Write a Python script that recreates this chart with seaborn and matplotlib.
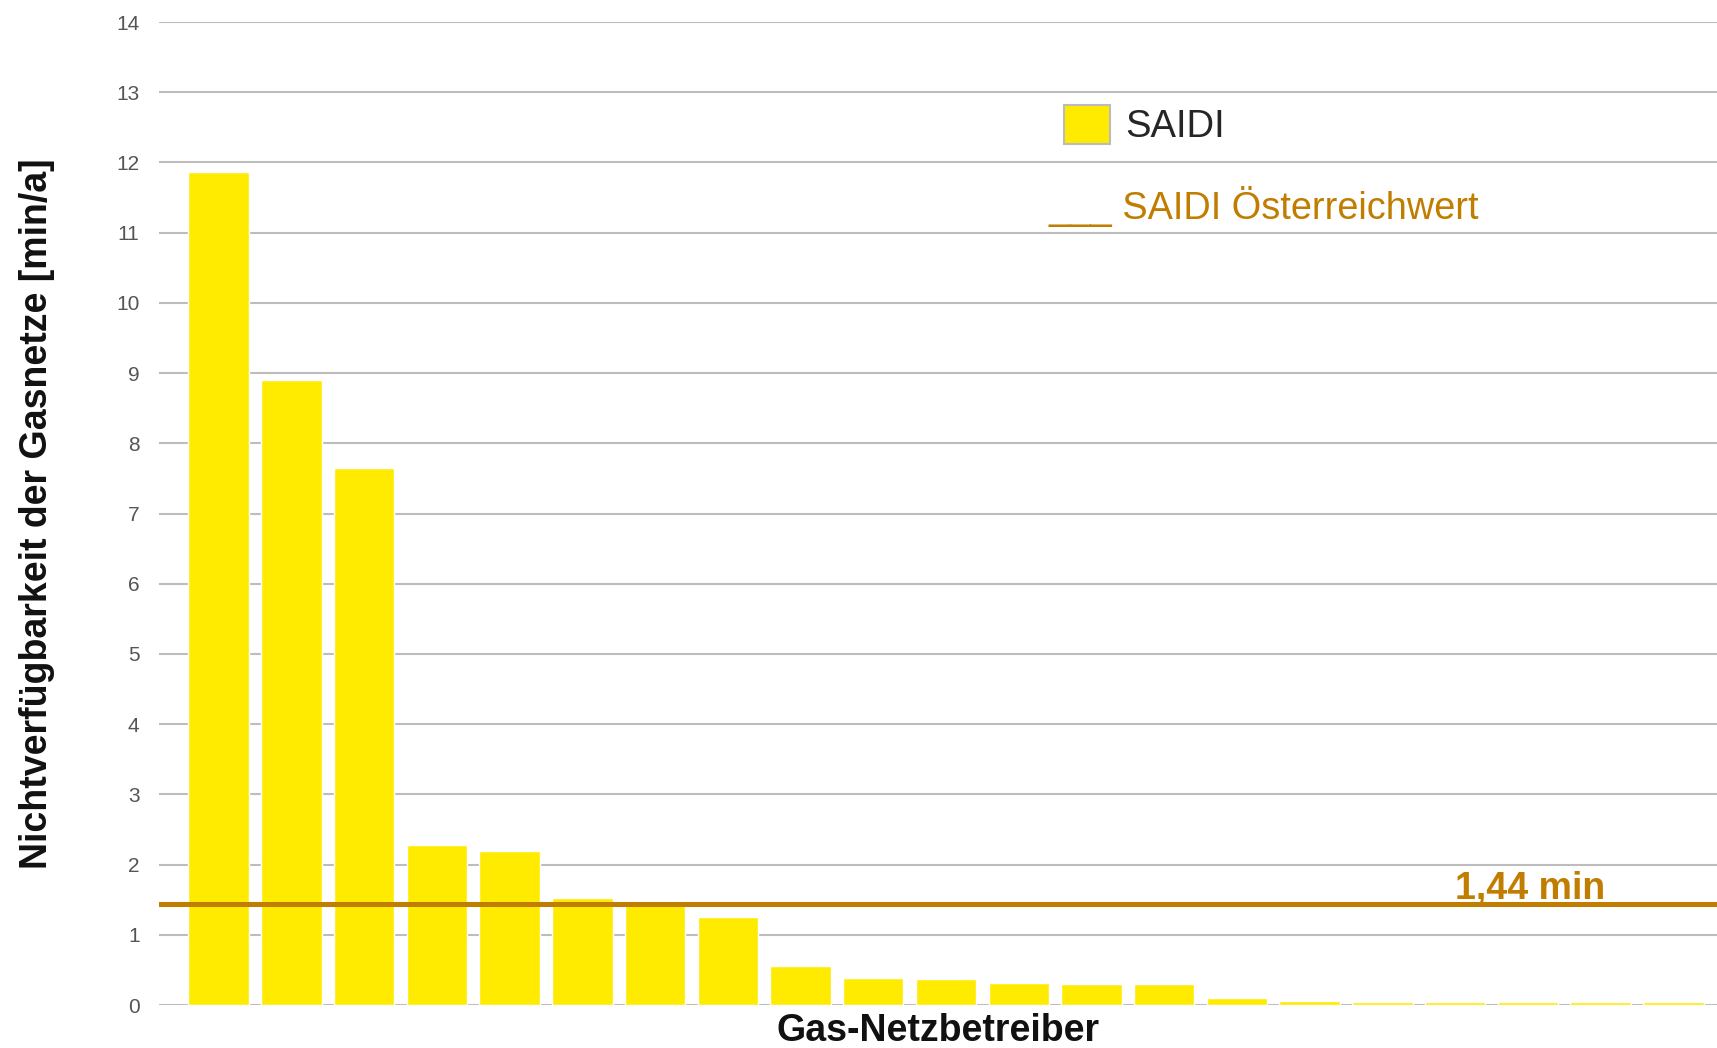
import matplotlib
matplotlib.use("Agg")
import matplotlib.pyplot as plt
import seaborn as sns
import pandas as pd
from matplotlib.patches import Patch

# SAIDI per gas network operator (min/a), sorted descending
operators = [f"NB{i}" for i in range(1, 22)]
saidi = [11.86, 8.90, 7.65, 2.28, 2.20, 1.52, 1.42, 1.25, 0.56, 0.39,
         0.37, 0.32, 0.30, 0.30, 0.10, 0.06, 0.04, 0.04, 0.04, 0.04, 0.04]
austria_value = 1.44
y_ticks = list(range(0, 15))

yellow = "#FFEB00"
orange = "#C07D00"
grid_grey = "#BDBDBD"

df = pd.DataFrame({"operator": operators, "saidi": saidi})

sns.set_theme(style="white")
plt.rcParams["font.family"] = ["Liberation Sans", "DejaVu Sans"]

fig = plt.figure(figsize=(17.17, 10.48), dpi=100)
ax = fig.add_axes([0.0926, 0.041, 0.9074, 0.938])

sns.barplot(data=df, x="operator", y="saidi", color=yellow, saturation=1,
            width=0.83, ax=ax, zorder=2)

ax.axhline(austria_value, color=orange, lw=3.6, zorder=3)
ax.text(17.0, austria_value + 0.07, f"{austria_value:.2f}".replace(".", ",") + " min",
        color=orange, fontsize=27, fontweight="bold", ha="left", va="baseline")

ax.set_ylim(0, 14)
ax.set_xlim(-0.82, 20.6)
ax.set_yticks(y_ticks)
ax.tick_params(axis="y", length=0, pad=14, labelsize=15, labelcolor="#555555")
ax.set_xticks([])
ax.yaxis.grid(True, color=grid_grey, lw=1.5)
ax.set_axisbelow(True)
for s in ax.spines.values():
    s.set_visible(False)

ax.set_ylabel("Nichtverfügbarkeit der Gasnetze [min/a]", fontsize=27,
              fontweight="bold", color="#111111", labelpad=44)
ax.set_xlabel("Gas-Netzbetreiber", fontsize=27, fontweight="bold",
              color="#111111", labelpad=6)

leg = ax.legend(handles=[Patch(facecolor=yellow, edgecolor="#BBBBBB", lw=1.5)],
                labels=["SAIDI"], loc="upper left", bbox_to_anchor=(0.581, 0.916),
                frameon=False, fontsize=27.5, handlelength=1.2, handleheight=1.2,
                handletextpad=0.4, borderpad=0, borderaxespad=0)
ax.text(0.571, 0.80, "___ SAIDI Österreichwert", transform=ax.transAxes,
        color=orange, fontsize=27.3, ha="left", va="baseline")

fig.savefig("out.png", dpi=100)
